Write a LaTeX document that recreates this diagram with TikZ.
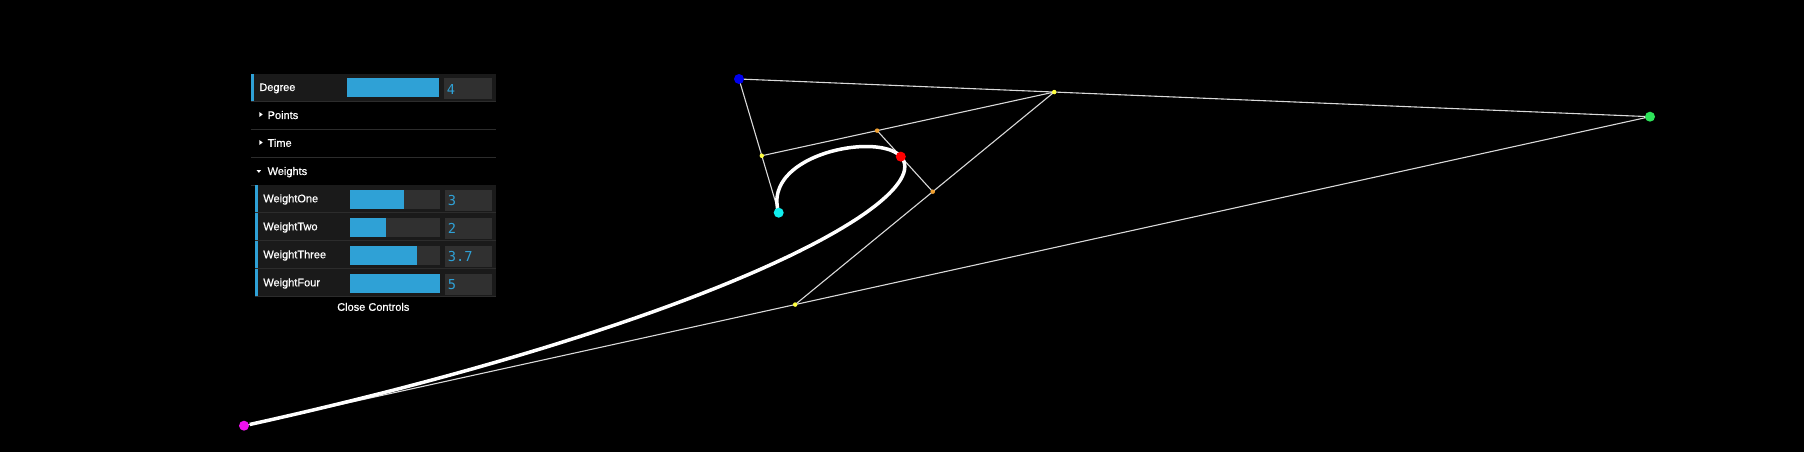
\documentclass[tikz,border=0pt]{standalone}
\usepackage{fontspec}
\setmainfont{Liberation Sans}
\newfontfamily\guifont[FakeBold=0.6]{Liberation Sans}
\newfontfamily\valfont{DejaVu Sans Mono}
\usetikzlibrary{calc}
\definecolor{rowbg}{HTML}{1A1A1A}
\definecolor{sepc}{HTML}{2C2C2C}
\definecolor{slbg}{HTML}{303030}
\definecolor{accent}{HTML}{2FA1D6}
\definecolor{ptcyan}{HTML}{11EEEE}
\definecolor{ptblue}{HTML}{0000EE}
\definecolor{ptgreen}{HTML}{2EE35A}
\definecolor{ptmag}{HTML}{F010F0}
\definecolor{ptred}{HTML}{FF0000}
\definecolor{ptyel}{HTML}{FFFF40}
\definecolor{ptora}{HTML}{F0A030}
% #1 left, #2 top, #3 slider left, #4 slider right, #5 fill right, #6 label, #7 value
\newcommand\ctlrow[7]{%
  \fill[rowbg] (#1,#2) rectangle (496,#2+28);
  \fill[accent] (#1,#2) rectangle (#1+3,#2+28);
  \draw[sepline] (#1,#2+27.7) -- (496,#2+27.7);
  \fill[slbg] (#3,#2+4.5) rectangle (#4,#2+23.5);
  \fill[accent] (#3,#2+4.5) rectangle (#5,#2+23.5);
  \fill[slbg] (#4+5,#2+4.5) rectangle (492,#2+25.5);
  \node[lbl] (#6) at (#1+8,#2+17) {#6};
  \node[val] (#6-val) at (#4+7.5,#2+20.5) {#7};
}
\begin{document}
\begin{tikzpicture}[x=0.02cm,y=-0.02cm,
  lbl/.style={anchor=base west, inner sep=0pt, text=white, font=\guifont\fontsize{6.26}{7.5}\selectfont},
  val/.style={anchor=base west, inner sep=0pt, text=accent, font=\valfont\fontsize{7.8}{9}\selectfont},
  sepline/.style={draw=sepc, line width=0.02cm},
  poly/.style={draw=white!85!black, line width=0.022cm},
  curveline/.style={draw=white, line width=0.07cm, line join=round},
  bigdot/.style={circle, inner sep=0pt, minimum size=0.2cm},
  smalldot/.style={circle, inner sep=0pt, minimum size=0.09cm},
  declare function={
    dn(\t)=(1-\t)^3+3*0.742*\t*(1-\t)^2+3*0.3926*\t^2*(1-\t)+0.609*\t^3;
    cx(\t)=((1-\t)^3*778.7+3*0.742*\t*(1-\t)^2*739+3*0.3926*\t^2*(1-\t)*1650+0.609*\t^3*244)/dn(\t);
    cy(\t)=((1-\t)^3*212.7+3*0.742*\t*(1-\t)^2*79+3*0.3926*\t^2*(1-\t)*116.7+0.609*\t^3*425.7)/dn(\t);
  }]
\fill[black] (0,0) rectangle (1804,452);
\useasboundingbox (0,0) rectangle (1804,452);

% ---------- control panel ----------
\ctlrow{251}{74}{347}{439}{439}{Degree}{4}
\fill[white] (259.3,112) -- (262.7,114.5) -- (259.3,117) -- cycle;
\node[lbl] (points) at (267.3,119) {Points};
\draw[sepline] (251,129.3) -- (496,129.3);
\fill[white] (259.3,140) -- (262.7,142.5) -- (259.3,145) -- cycle;
\node[lbl] (time) at (267.3,146.8) {Time};
\draw[sepline] (251,157.3) -- (496,157.3);
\fill[white] (256.7,170.2) -- (261,170.2) -- (258.85,172.8) -- cycle;
\node[lbl] (weights) at (267.3,175) {Weights};
\draw[sepline] (251,185.3) -- (496,185.3);
\ctlrow{255}{185.3}{350}{440}{404}{WeightOne}{3}
\ctlrow{255}{213.3}{350}{440}{386}{WeightTwo}{2}
\ctlrow{255}{241.3}{350}{440}{416.6}{WeightThree}{3.7}
\ctlrow{255}{269.3}{350}{440}{440}{WeightFour}{5}
\node[lbl, anchor=base] (close) at (373.3,310.8) {Close Controls};

% ---------- control points and de Casteljau construction ----------
\coordinate (P0) at (778.7,212.7);
\coordinate (P1) at (739,79);
\coordinate (P2) at (1650,116.7);
\coordinate (P3) at (244,425.7);
\coordinate (Q0) at ($(P0)!0.426!(P1)$);
\coordinate (Q1) at ($(P1)!0.346!(P2)$);
\coordinate (Q2) at ($(P2)!0.608!(P3)$);
\coordinate (R0) at ($(Q0)!0.3944!(Q1)$);
\coordinate (R1) at ($(Q1)!0.4689!(Q2)$);
\coordinate (S0) at ($(R0)!0.4261!(R1)$);

\draw[poly] (P0) -- (P1) -- (P2) -- (P3);
\draw[poly] (Q0) -- (Q1) -- (Q2);
\draw[poly] (R0) -- (R1);

\draw[curveline] plot[domain=0:1, samples=320, variable=\t] ({cx(\t)},{cy(\t)});

\node[smalldot, fill=ptyel] (y0) at (Q0) {};
\node[smalldot, fill=ptyel] (y1) at (Q1) {};
\node[smalldot, fill=ptyel] (y2) at (Q2) {};
\node[smalldot, fill=ptora] (o0) at (R0) {};
\node[smalldot, fill=ptora] (o1) at (R1) {};
\node[bigdot, fill=ptcyan] (cyanpt) at (P0) {};
\node[bigdot, fill=ptblue] (bluept) at (P1) {};
\node[bigdot, fill=ptgreen] (greenpt) at (P2) {};
\node[bigdot, fill=ptmag] (magpt) at (P3) {};
\node[bigdot, fill=ptred] (redpt) at (S0) {};
\end{tikzpicture}
\end{document}
